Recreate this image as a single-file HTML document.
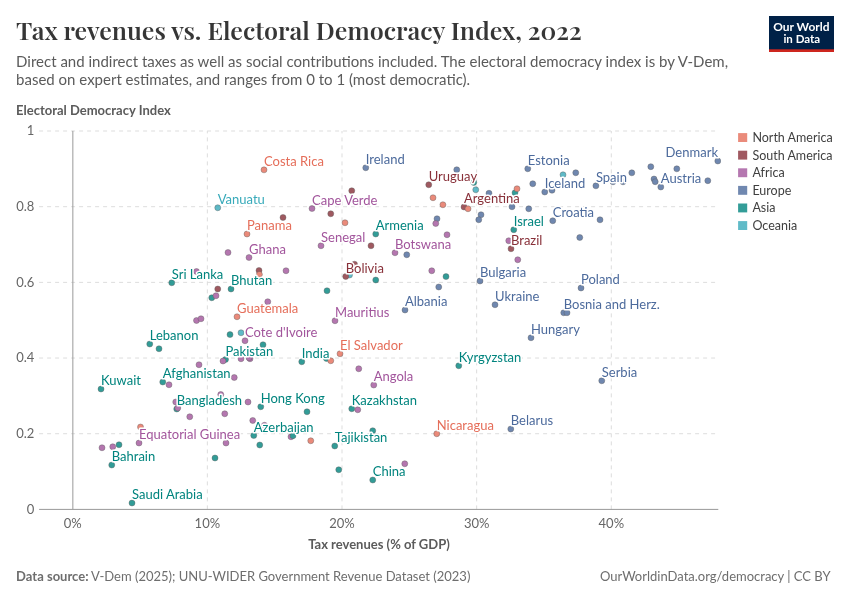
<!DOCTYPE html>
<html lang="en"><head><meta charset="utf-8"><title>Tax revenues vs. Electoral Democracy Index, 2022</title>
<style>
html,body{margin:0;padding:0;background:#fff;}
body{width:850px;height:600px;overflow:hidden;}
svg{display:block;font-family:Lato,"Liberation Sans",sans-serif;}
.title{font-family:"Playfair Display","Liberation Serif",serif;font-weight:600;font-size:25px;font-size-adjust:cap-height 0.708;fill:#363636;}
.sub{font-size:15px;fill:#5b5b5b;}
.axl{font-size:13px;font-weight:700;fill:#5b5b5b;}
.tick{font-size:13px;fill:#666;}
.leg{font-size:12.5px;fill:#3f3f3f;}
.foot{font-size:13px;fill:#6e6e6e;}
.lab{font-size:13px;stroke:#fff;stroke-width:3px;stroke-linejoin:round;paint-order:stroke fill;}
.logo{font-weight:700;font-size:11.7px;fill:#fff;text-anchor:middle;}
.g line{stroke:#ddd;stroke-width:1;stroke-dasharray:4 4;}
.d circle{stroke:#333;stroke-width:.4;}
</style></head><body>
<svg width="850" height="600" viewBox="0 0 850 600">
<rect width="850" height="600" fill="#fff"/>
<text id="t0" x="16.0" y="40" class="title" textLength="565.81" lengthAdjust="spacingAndGlyphs">Tax revenues vs. Electoral Democracy Index, 2022</text>
<text id="t1" x="16.1" y="67" class="sub" textLength="711.98" lengthAdjust="spacingAndGlyphs">Direct and indirect taxes as well as social contributions included. The electoral democracy index is by V-Dem,</text>
<text id="t2" x="16.1" y="85" class="sub" textLength="454.05" lengthAdjust="spacingAndGlyphs">based on expert estimates, and ranges from 0 to 1 (most democratic).</text>
<rect x="769" y="16" width="65" height="36" fill="#002147"/><rect x="769" y="49.3" width="65" height="2.7" fill="#ce261e"/>
<text id="t3" x="801.4" y="31" class="logo" textLength="56.20" lengthAdjust="spacingAndGlyphs" style="font-size:11.95px">Our World</text>
<text id="t4" x="801.8" y="43" class="logo" textLength="36.69" lengthAdjust="spacingAndGlyphs" style="font-size:11.5px">in Data</text>
<text id="t5" x="16.1" y="115" class="axl" textLength="154.69" lengthAdjust="spacingAndGlyphs">Electoral Democracy Index</text>
<g class="g">
<line x1="39.1" x2="718.3" y1="131.00" y2="131.00"/>
<line x1="39.1" x2="718.3" y1="206.68" y2="206.68"/>
<line x1="39.1" x2="718.3" y1="282.36" y2="282.36"/>
<line x1="39.1" x2="718.3" y1="358.04" y2="358.04"/>
<line x1="39.1" x2="718.3" y1="433.72" y2="433.72"/>
<line x1="207.35" x2="207.35" y1="509.4" y2="131.0"/>
<line x1="342.00" x2="342.00" y1="509.4" y2="131.0"/>
<line x1="476.65" x2="476.65" y1="509.4" y2="131.0"/>
<line x1="611.30" x2="611.30" y1="509.4" y2="131.0"/>
</g>
<line x1="72.85" x2="72.85" y1="130.9" y2="509.4" stroke="#999" stroke-width="1"/>
<line x1="39.1" x2="718.3" y1="509.4" y2="509.4" stroke="#999" stroke-width="1"/>
<text id="t6" x="34.4" y="135" class="tick" textLength="7.55" lengthAdjust="spacingAndGlyphs" text-anchor="end">1</text>
<text id="t7" x="34.4" y="211" class="tick" textLength="18.16" lengthAdjust="spacingAndGlyphs" text-anchor="end">0.8</text>
<text id="t8" x="34.4" y="287" class="tick" textLength="18.16" lengthAdjust="spacingAndGlyphs" text-anchor="end">0.6</text>
<text id="t9" x="34.4" y="362" class="tick" textLength="18.16" lengthAdjust="spacingAndGlyphs" text-anchor="end">0.4</text>
<text id="t10" x="34.4" y="438" class="tick" textLength="18.16" lengthAdjust="spacingAndGlyphs" text-anchor="end">0.2</text>
<text id="t11" x="34.4" y="514" class="tick" textLength="7.55" lengthAdjust="spacingAndGlyphs" text-anchor="end">0</text>
<text id="t12" x="72.70" y="528" class="tick" textLength="17.97" lengthAdjust="spacingAndGlyphs" text-anchor="middle">0%</text>
<text id="t13" x="207.35" y="528" class="tick" textLength="25.50" lengthAdjust="spacingAndGlyphs" text-anchor="middle">10%</text>
<text id="t14" x="342.00" y="528" class="tick" textLength="25.50" lengthAdjust="spacingAndGlyphs" text-anchor="middle">20%</text>
<text id="t15" x="476.65" y="528" class="tick" textLength="25.50" lengthAdjust="spacingAndGlyphs" text-anchor="middle">30%</text>
<text id="t16" x="611.30" y="528" class="tick" textLength="25.50" lengthAdjust="spacingAndGlyphs" text-anchor="middle">40%</text>
<text id="t17" x="379" y="549" class="axl" textLength="141.62" lengthAdjust="spacingAndGlyphs" text-anchor="middle">Tax revenues (% of GDP)</text>
<g class="d" opacity="0.8">
<circle cx="217.75" cy="207.75" r="3" fill="#38AABA"/>
<circle cx="241" cy="332.75" r="3" fill="#38AABA"/>
<circle cx="475.75" cy="189.75" r="3" fill="#38AABA"/>
<circle cx="563" cy="174.8" r="3" fill="#38AABA"/>
<circle cx="349.5" cy="275" r="3" fill="#38AABA"/>
<circle cx="171.75" cy="282.75" r="3" fill="#00847E"/>
<circle cx="231" cy="289" r="3" fill="#00847E"/>
<circle cx="211.75" cy="297.75" r="3" fill="#00847E"/>
<circle cx="230" cy="334.6" r="3" fill="#00847E"/>
<circle cx="149.75" cy="344" r="3" fill="#00847E"/>
<circle cx="159" cy="348.75" r="3" fill="#00847E"/>
<circle cx="225.5" cy="359.5" r="3" fill="#00847E"/>
<circle cx="162.75" cy="382" r="3" fill="#00847E"/>
<circle cx="101" cy="389" r="3" fill="#00847E"/>
<circle cx="176.75" cy="409" r="3" fill="#00847E"/>
<circle cx="119" cy="444.75" r="3" fill="#00847E"/>
<circle cx="111.75" cy="465" r="3" fill="#00847E"/>
<circle cx="215" cy="458" r="3" fill="#00847E"/>
<circle cx="132" cy="503" r="3" fill="#00847E"/>
<circle cx="375.75" cy="234" r="3" fill="#00847E"/>
<circle cx="375.75" cy="280" r="3" fill="#00847E"/>
<circle cx="446" cy="276.6" r="3" fill="#00847E"/>
<circle cx="327" cy="290.75" r="3" fill="#00847E"/>
<circle cx="263" cy="344.75" r="3" fill="#00847E"/>
<circle cx="301.75" cy="361.75" r="3" fill="#00847E"/>
<circle cx="326.5" cy="358.5" r="3" fill="#00847E"/>
<circle cx="260.75" cy="406.75" r="3" fill="#00847E"/>
<circle cx="307" cy="411.75" r="3" fill="#00847E"/>
<circle cx="351.75" cy="408.75" r="3" fill="#00847E"/>
<circle cx="253.75" cy="435.5" r="3" fill="#00847E"/>
<circle cx="259.75" cy="445" r="3" fill="#00847E"/>
<circle cx="372.75" cy="430.75" r="3" fill="#00847E"/>
<circle cx="334.75" cy="446" r="3" fill="#00847E"/>
<circle cx="338.75" cy="469.75" r="3" fill="#00847E"/>
<circle cx="372.75" cy="480" r="3" fill="#00847E"/>
<circle cx="473.75" cy="182.5" r="3" fill="#00847E"/>
<circle cx="515" cy="192.75" r="3" fill="#00847E"/>
<circle cx="513.75" cy="229.75" r="3" fill="#00847E"/>
<circle cx="458.75" cy="365.75" r="3" fill="#00847E"/>
<circle cx="365.75" cy="167.75" r="3" fill="#4C6A9C"/>
<circle cx="437" cy="218.75" r="3" fill="#4C6A9C"/>
<circle cx="406.75" cy="254.75" r="3" fill="#4C6A9C"/>
<circle cx="438.75" cy="287" r="3" fill="#4C6A9C"/>
<circle cx="405" cy="310" r="3" fill="#4C6A9C"/>
<circle cx="456.75" cy="169.75" r="3" fill="#4C6A9C"/>
<circle cx="489" cy="193.25" r="3" fill="#4C6A9C"/>
<circle cx="527.75" cy="168.75" r="3" fill="#4C6A9C"/>
<circle cx="532.75" cy="183.75" r="3" fill="#4C6A9C"/>
<circle cx="575.75" cy="172.75" r="3" fill="#4C6A9C"/>
<circle cx="544.75" cy="192" r="3" fill="#4C6A9C"/>
<circle cx="552" cy="190.25" r="3" fill="#4C6A9C"/>
<circle cx="595.9" cy="185.8" r="3" fill="#4C6A9C"/>
<circle cx="613" cy="181.8" r="3" fill="#4C6A9C"/>
<circle cx="623" cy="181.8" r="3" fill="#4C6A9C"/>
<circle cx="631.8" cy="172.8" r="3" fill="#4C6A9C"/>
<circle cx="512" cy="206.75" r="3" fill="#4C6A9C"/>
<circle cx="528.75" cy="208.75" r="3" fill="#4C6A9C"/>
<circle cx="481" cy="214.75" r="3" fill="#4C6A9C"/>
<circle cx="478.75" cy="219.75" r="3" fill="#4C6A9C"/>
<circle cx="552.75" cy="220.75" r="3" fill="#4C6A9C"/>
<circle cx="600" cy="219.8" r="3" fill="#4C6A9C"/>
<circle cx="579.75" cy="237.5" r="3" fill="#4C6A9C"/>
<circle cx="480" cy="281" r="3" fill="#4C6A9C"/>
<circle cx="581" cy="288" r="3" fill="#4C6A9C"/>
<circle cx="495" cy="304.75" r="3" fill="#4C6A9C"/>
<circle cx="563.75" cy="312.75" r="3" fill="#4C6A9C"/>
<circle cx="567" cy="312.75" r="3" fill="#4C6A9C"/>
<circle cx="531" cy="337.75" r="3" fill="#4C6A9C"/>
<circle cx="601.75" cy="380.75" r="3" fill="#4C6A9C"/>
<circle cx="510.75" cy="429" r="3" fill="#4C6A9C"/>
<circle cx="650.8" cy="166.7" r="3" fill="#4C6A9C"/>
<circle cx="676.8" cy="168.8" r="3" fill="#4C6A9C"/>
<circle cx="717.8" cy="161" r="3" fill="#4C6A9C"/>
<circle cx="654" cy="179" r="3" fill="#4C6A9C"/>
<circle cx="655.2" cy="181.7" r="3" fill="#4C6A9C"/>
<circle cx="660.8" cy="187" r="3" fill="#4C6A9C"/>
<circle cx="707.8" cy="180.7" r="3" fill="#4C6A9C"/>
<circle cx="351.75" cy="190.75" r="3" fill="#883039"/>
<circle cx="428.75" cy="184.75" r="3" fill="#883039"/>
<circle cx="330.75" cy="213.75" r="3" fill="#883039"/>
<circle cx="283" cy="217.5" r="3" fill="#883039"/>
<circle cx="371" cy="245.75" r="3" fill="#883039"/>
<circle cx="259" cy="270.5" r="3" fill="#883039"/>
<circle cx="354.5" cy="264.2" r="3" fill="#883039"/>
<circle cx="345.75" cy="276.5" r="3" fill="#883039"/>
<circle cx="217.75" cy="289" r="3" fill="#883039"/>
<circle cx="464" cy="207" r="3" fill="#883039"/>
<circle cx="511" cy="248.75" r="3" fill="#883039"/>
<circle cx="264" cy="169.85" r="3" fill="#E56E5A"/>
<circle cx="433" cy="197.75" r="3" fill="#E56E5A"/>
<circle cx="442.9" cy="204.75" r="3" fill="#E56E5A"/>
<circle cx="247" cy="234" r="3" fill="#E56E5A"/>
<circle cx="345" cy="222.75" r="3" fill="#E56E5A"/>
<circle cx="259.4" cy="274.4" r="3" fill="#E56E5A"/>
<circle cx="237" cy="316.75" r="3" fill="#E56E5A"/>
<circle cx="340" cy="353.75" r="3" fill="#E56E5A"/>
<circle cx="330.75" cy="360.75" r="3" fill="#E56E5A"/>
<circle cx="310.75" cy="440.75" r="3" fill="#E56E5A"/>
<circle cx="436.75" cy="433.75" r="3" fill="#E56E5A"/>
<circle cx="140.5" cy="427" r="3" fill="#E56E5A"/>
<circle cx="517" cy="188.75" r="3" fill="#E56E5A"/>
<circle cx="468" cy="208.75" r="3" fill="#E56E5A"/>
<circle cx="228" cy="252.5" r="3" fill="#A2559C"/>
<circle cx="249" cy="257.5" r="3" fill="#A2559C"/>
<circle cx="196.5" cy="271.5" r="3" fill="#A2559C"/>
<circle cx="216" cy="295.75" r="3" fill="#A2559C"/>
<circle cx="196.5" cy="320.5" r="3" fill="#A2559C"/>
<circle cx="201" cy="318.75" r="3" fill="#A2559C"/>
<circle cx="245" cy="340.75" r="3" fill="#A2559C"/>
<circle cx="312" cy="208.5" r="3" fill="#A2559C"/>
<circle cx="321" cy="245.75" r="3" fill="#A2559C"/>
<circle cx="395" cy="252.75" r="3" fill="#A2559C"/>
<circle cx="435.75" cy="223.5" r="3" fill="#A2559C"/>
<circle cx="447" cy="234.75" r="3" fill="#A2559C"/>
<circle cx="286" cy="270.75" r="3" fill="#A2559C"/>
<circle cx="431.75" cy="270.75" r="3" fill="#A2559C"/>
<circle cx="267.75" cy="301.75" r="3" fill="#A2559C"/>
<circle cx="335" cy="320.75" r="3" fill="#A2559C"/>
<circle cx="250" cy="358.75" r="3" fill="#A2559C"/>
<circle cx="358.75" cy="368.75" r="3" fill="#A2559C"/>
<circle cx="373.75" cy="385" r="3" fill="#A2559C"/>
<circle cx="199" cy="364.75" r="3" fill="#A2559C"/>
<circle cx="223" cy="361" r="3" fill="#A2559C"/>
<circle cx="241" cy="358.75" r="3" fill="#A2559C"/>
<circle cx="249" cy="357.75" r="3" fill="#A2559C"/>
<circle cx="234.25" cy="377.5" r="3" fill="#A2559C"/>
<circle cx="169" cy="384.75" r="3" fill="#A2559C"/>
<circle cx="175.75" cy="402" r="3" fill="#A2559C"/>
<circle cx="177.75" cy="408" r="3" fill="#A2559C"/>
<circle cx="220.75" cy="394.5" r="3" fill="#A2559C"/>
<circle cx="248" cy="402" r="3" fill="#A2559C"/>
<circle cx="189.75" cy="416.75" r="3" fill="#A2559C"/>
<circle cx="224.75" cy="413.75" r="3" fill="#A2559C"/>
<circle cx="252.75" cy="420.5" r="3" fill="#A2559C"/>
<circle cx="139" cy="443" r="3" fill="#A2559C"/>
<circle cx="102" cy="447.75" r="3" fill="#A2559C"/>
<circle cx="112.75" cy="446.75" r="3" fill="#A2559C"/>
<circle cx="226" cy="443" r="3" fill="#A2559C"/>
<circle cx="357.75" cy="409.75" r="3" fill="#A2559C"/>
<circle cx="264.5" cy="425.3" r="3" fill="#A2559C"/>
<circle cx="291" cy="436.75" r="3" fill="#A2559C"/>
<circle cx="404.75" cy="463.75" r="3" fill="#A2559C"/>
<circle cx="508.75" cy="240.75" r="3" fill="#A2559C"/>
<circle cx="517.75" cy="259.75" r="3" fill="#A2559C"/>
<circle cx="293" cy="435.75" r="3" fill="#00847E"/>
</g>
<g>
<text id="t18" x="264" y="166" class="lab" textLength="59.86" lengthAdjust="spacingAndGlyphs" fill="#E56E5A">Costa Rica</text>
<text id="t19" x="247" y="230" class="lab" textLength="44.94" lengthAdjust="spacingAndGlyphs" fill="#E56E5A">Panama</text>
<text id="t20" x="237" y="313" class="lab" textLength="61.19" lengthAdjust="spacingAndGlyphs" fill="#E56E5A">Guatemala</text>
<text id="t21" x="340" y="350" class="lab" textLength="62.75" lengthAdjust="spacingAndGlyphs" fill="#E56E5A">El Salvador</text>
<text id="t22" x="436.75" y="430" class="lab" textLength="57.19" lengthAdjust="spacingAndGlyphs" fill="#E56E5A">Nicaragua</text>
<text id="t23" x="428.75" y="181" class="lab" textLength="48.38" lengthAdjust="spacingAndGlyphs" fill="#883039">Uruguay</text>
<text id="t24" x="345.75" y="273" class="lab" textLength="38.16" lengthAdjust="spacingAndGlyphs" fill="#883039">Bolivia</text>
<text id="t25" x="464" y="203" class="lab" textLength="55.77" lengthAdjust="spacingAndGlyphs" fill="#883039">Argentina</text>
<text id="t26" x="511" y="245" class="lab" textLength="31.42" lengthAdjust="spacingAndGlyphs" fill="#883039">Brazil</text>
<text id="t27" x="249" y="254" class="lab" textLength="36.88" lengthAdjust="spacingAndGlyphs" fill="#A2559C">Ghana</text>
<text id="t28" x="245" y="337" class="lab" textLength="72.39" lengthAdjust="spacingAndGlyphs" fill="#A2559C">Cote d'Ivoire</text>
<text id="t29" x="312" y="205" class="lab" textLength="65.47" lengthAdjust="spacingAndGlyphs" fill="#A2559C">Cape Verde</text>
<text id="t30" x="321" y="242" class="lab" textLength="44.30" lengthAdjust="spacingAndGlyphs" fill="#A2559C">Senegal</text>
<text id="t31" x="395" y="249" class="lab" textLength="56.17" lengthAdjust="spacingAndGlyphs" fill="#A2559C">Botswana</text>
<text id="t32" x="335" y="317" class="lab" textLength="54.33" lengthAdjust="spacingAndGlyphs" fill="#A2559C">Mauritius</text>
<text id="t33" x="373.75" y="381" class="lab" textLength="39.59" lengthAdjust="spacingAndGlyphs" fill="#A2559C">Angola</text>
<text id="t34" x="139" y="439" class="lab" textLength="101.19" lengthAdjust="spacingAndGlyphs" fill="#A2559C">Equatorial Guinea</text>
<text id="t35" x="365.75" y="164" class="lab" textLength="38.94" lengthAdjust="spacingAndGlyphs" fill="#4C6A9C">Ireland</text>
<text id="t36" x="405" y="306" class="lab" textLength="42.42" lengthAdjust="spacingAndGlyphs" fill="#4C6A9C">Albania</text>
<text id="t37" x="527.75" y="165" class="lab" textLength="41.88" lengthAdjust="spacingAndGlyphs" fill="#4C6A9C">Estonia</text>
<text id="t38" x="544.75" y="188" class="lab" textLength="40.47" lengthAdjust="spacingAndGlyphs" fill="#4C6A9C">Iceland</text>
<text id="t39" x="595.9" y="182" class="lab" textLength="31.03" lengthAdjust="spacingAndGlyphs" fill="#4C6A9C">Spain</text>
<text id="t40" x="552.75" y="217" class="lab" textLength="41.33" lengthAdjust="spacingAndGlyphs" fill="#4C6A9C">Croatia</text>
<text id="t41" x="480" y="277" class="lab" textLength="46.12" lengthAdjust="spacingAndGlyphs" fill="#4C6A9C">Bulgaria</text>
<text id="t42" x="581" y="284" class="lab" textLength="38.91" lengthAdjust="spacingAndGlyphs" fill="#4C6A9C">Poland</text>
<text id="t43" x="495" y="301" class="lab" textLength="44.38" lengthAdjust="spacingAndGlyphs" fill="#4C6A9C">Ukraine</text>
<text id="t44" x="563.75" y="309" class="lab" textLength="96.06" lengthAdjust="spacingAndGlyphs" fill="#4C6A9C">Bosnia and Herz.</text>
<text id="t45" x="531" y="334" class="lab" textLength="48.97" lengthAdjust="spacingAndGlyphs" fill="#4C6A9C">Hungary</text>
<text id="t46" x="601.75" y="377" class="lab" textLength="35.48" lengthAdjust="spacingAndGlyphs" fill="#4C6A9C">Serbia</text>
<text id="t47" x="510.75" y="425" class="lab" textLength="42.31" lengthAdjust="spacingAndGlyphs" fill="#4C6A9C">Belarus</text>
<text id="t48" x="718.0" y="157" class="lab" textLength="52.41" lengthAdjust="spacingAndGlyphs" fill="#4C6A9C" text-anchor="end">Denmark</text>
<text id="t49" x="660.8" y="183" class="lab" textLength="40.50" lengthAdjust="spacingAndGlyphs" fill="#4C6A9C">Austria</text>
<text id="t50" x="171.75" y="279" class="lab" textLength="51.55" lengthAdjust="spacingAndGlyphs" fill="#00847E">Sri Lanka</text>
<text id="t51" x="231" y="285" class="lab" textLength="41.16" lengthAdjust="spacingAndGlyphs" fill="#00847E">Bhutan</text>
<text id="t52" x="149.75" y="340" class="lab" textLength="48.69" lengthAdjust="spacingAndGlyphs" fill="#00847E">Lebanon</text>
<text id="t53" x="225.5" y="356" class="lab" textLength="47.80" lengthAdjust="spacingAndGlyphs" fill="#00847E">Pakistan</text>
<text id="t54" x="162.75" y="378" class="lab" textLength="67.88" lengthAdjust="spacingAndGlyphs" fill="#00847E">Afghanistan</text>
<text id="t55" x="101" y="385" class="lab" textLength="39.91" lengthAdjust="spacingAndGlyphs" fill="#00847E">Kuwait</text>
<text id="t56" x="176.75" y="405" class="lab" textLength="65.34" lengthAdjust="spacingAndGlyphs" fill="#00847E">Bangladesh</text>
<text id="t57" x="111.75" y="461" class="lab" textLength="43.48" lengthAdjust="spacingAndGlyphs" fill="#00847E">Bahrain</text>
<text id="t58" x="132" y="499" class="lab" textLength="70.70" lengthAdjust="spacingAndGlyphs" fill="#00847E">Saudi Arabia</text>
<text id="t59" x="375.75" y="230" class="lab" textLength="47.91" lengthAdjust="spacingAndGlyphs" fill="#00847E">Armenia</text>
<text id="t60" x="301.75" y="358" class="lab" textLength="27.67" lengthAdjust="spacingAndGlyphs" fill="#00847E">India</text>
<text id="t61" x="260.75" y="403" class="lab" textLength="63.95" lengthAdjust="spacingAndGlyphs" fill="#00847E">Hong Kong</text>
<text id="t62" x="351.75" y="405" class="lab" textLength="65.23" lengthAdjust="spacingAndGlyphs" fill="#00847E">Kazakhstan</text>
<text id="t63" x="253.75" y="432" class="lab" textLength="59.86" lengthAdjust="spacingAndGlyphs" fill="#00847E">Azerbaijan</text>
<text id="t64" x="334.75" y="442" class="lab" textLength="52.62" lengthAdjust="spacingAndGlyphs" fill="#00847E">Tajikistan</text>
<text id="t65" x="372.75" y="476" class="lab" textLength="32.78" lengthAdjust="spacingAndGlyphs" fill="#00847E">China</text>
<text id="t66" x="513.75" y="226" class="lab" textLength="30.11" lengthAdjust="spacingAndGlyphs" fill="#00847E">Israel</text>
<text id="t67" x="458.75" y="362" class="lab" textLength="62.58" lengthAdjust="spacingAndGlyphs" fill="#00847E">Kyrgyzstan</text>
<text id="t68" x="217.75" y="204" class="lab" textLength="47.09" lengthAdjust="spacingAndGlyphs" fill="#38AABA">Vanuatu</text>
</g>
<rect x="738.1" y="133.10" width="9.1" height="8.9" fill="#E56E5A" opacity="0.8"/>
<text id="t69" x="752.4" y="142" class="leg" textLength="80.28" lengthAdjust="spacingAndGlyphs">North America</text>
<rect x="738.1" y="150.70" width="9.1" height="8.9" fill="#883039" opacity="0.8"/>
<text id="t70" x="752.4" y="160" class="leg" textLength="80.09" lengthAdjust="spacingAndGlyphs">South America</text>
<rect x="738.1" y="168.30" width="9.1" height="8.9" fill="#A2559C" opacity="0.8"/>
<text id="t71" x="752.4" y="177" class="leg" textLength="32.31" lengthAdjust="spacingAndGlyphs">Africa</text>
<rect x="738.1" y="185.90" width="9.1" height="8.9" fill="#4C6A9C" opacity="0.8"/>
<text id="t72" x="752.4" y="195" class="leg" textLength="38.91" lengthAdjust="spacingAndGlyphs">Europe</text>
<rect x="738.1" y="203.50" width="9.1" height="8.9" fill="#00847E" opacity="0.8"/>
<text id="t73" x="752.4" y="212" class="leg" textLength="23.09" lengthAdjust="spacingAndGlyphs">Asia</text>
<rect x="738.1" y="221.10" width="9.1" height="8.9" fill="#38AABA" opacity="0.8"/>
<text id="t74" x="752.4" y="230" class="leg" textLength="44.78" lengthAdjust="spacingAndGlyphs">Oceania</text>
<text id="t75" x="16.1" y="581" class="foot" textLength="72.44" lengthAdjust="spacingAndGlyphs" font-weight="700">Data source:</text>
<text id="t76" x="91.05" y="581" class="foot" textLength="379.34" lengthAdjust="spacingAndGlyphs">V-Dem (2025); UNU-WIDER Government Revenue Dataset (2023)</text>
<text id="t77" x="830.6" y="581" class="foot" textLength="230.59" lengthAdjust="spacingAndGlyphs" text-anchor="end">OurWorldinData.org/democracy | CC BY</text>
</svg></body></html>
